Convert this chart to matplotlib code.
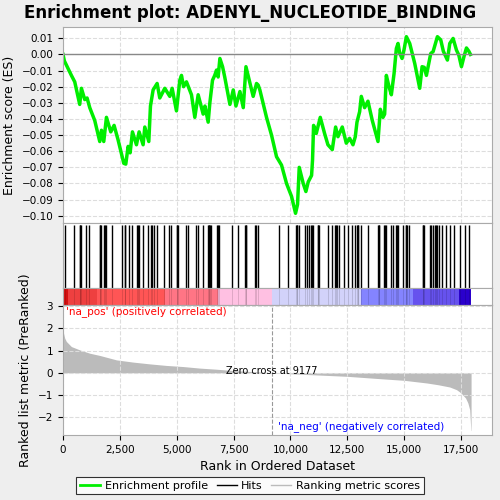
import matplotlib.pyplot as plt
import numpy as np
from matplotlib.lines import Line2D

# running enrichment score (rank, ES)
es_rank = [0, 60, 369, 516, 735, 809, 956, 1058, 1176, 1396, 1616, 1690, 1792, 1910,
           2100, 2246, 2422, 2672, 2760, 2863, 2950, 3053, 3229, 3346, 3522, 3596, 3772,
           3845, 3962, 4138, 4255, 4475, 4695, 4798, 4988, 5135, 5209, 5300, 5428, 5648,
           5795, 5942, 6162, 6240, 6382, 6456, 6573, 6670, 6750, 6820, 6897, 7015, 7110,
           7338, 7485, 7602, 7778, 7925, 8043, 8190, 8361, 8508, 8580, 8654, 8947, 9167,
           9387, 9607, 9827, 10047, 10223, 10311, 10385, 10561, 10678, 10781, 10928,
           10970, 11016, 11134, 11310, 11500, 11647, 11838, 11985, 12088, 12278, 12454,
           12600, 12748, 12850, 12924, 13041, 13114, 13260, 13407, 13598, 13848, 13950,
           14068, 14140, 14215, 14332, 14435, 14553, 14655, 14729, 14800, 14905, 14990,
           15096, 15243, 15463, 15683, 15786, 15880, 15976, 16060, 16167, 16270, 16372,
           16460, 16607, 16720, 16900, 17003, 17150, 17297, 17400, 17517, 17634, 17737,
           17840, 17913]
es_val = [0.000, -0.004, -0.013, -0.017, -0.031, -0.021, -0.028, -0.027, -0.033, -0.041,
          -0.054, -0.047, -0.054, -0.039, -0.048, -0.044, -0.053, -0.0675, -0.068, -0.057,
          -0.061, -0.048, -0.056, -0.048, -0.056, -0.045, -0.054, -0.032, -0.022, -0.018,
          -0.027, -0.021, -0.026, -0.021, -0.035, -0.016, -0.013, -0.020, -0.017, -0.025,
          -0.039, -0.025, -0.037, -0.032, -0.042, -0.030, -0.016, -0.013, -0.0097, -0.014,
          -0.0025, -0.0076, -0.014, -0.031, -0.022, -0.032, -0.023, -0.033, -0.0076,
          -0.016, -0.026, -0.018, -0.019, -0.022, -0.039, -0.050, -0.0634, -0.0686, -0.080,
          -0.088, -0.0985, -0.093, -0.070, -0.080, -0.085, -0.079, -0.075, -0.0655, -0.044,
          -0.049, -0.039, -0.049, -0.056, -0.059, -0.045, -0.051, -0.045, -0.055, -0.052,
          -0.056, -0.051, -0.042, -0.0355, -0.026, -0.033, -0.029, -0.041, -0.054, -0.034,
          -0.039, -0.037, -0.013, -0.020, -0.025, -0.012, 0.0037, 0.0068, 0.001, -0.0025,
          0.0027, 0.011, 0.0068, -0.0056, -0.021, -0.0076, -0.008, -0.013, -0.007, 0.0006,
          0.0017, 0.0068, 0.011, 0.009, 0.002, -0.0035, 0.0068, 0.0099, 0.0027, -0.0004,
          -0.0076, -0.001, 0.004, 0.002, 0.000]

# positions of gene set members in the ranked list
hits = [75, 484, 740, 766, 790, 1012, 1144, 1620, 1645, 1670, 1790, 1835, 1880, 2173,
        2596, 2720, 2745, 2904, 3053, 3260, 3300, 3340, 3537, 3727, 3880, 3933, 3980,
        4153, 4430, 4681, 4751, 5000, 5033, 5070, 5411, 5486, 5869, 5939, 6159, 6360,
        6400, 6423, 6450, 6490, 6780, 6819, 6860, 7422, 7673, 7990, 8025, 8060, 8421,
        8491, 8566, 9503, 9872, 10230, 10268, 10300, 10356, 10647, 10735, 10809, 10900,
        10941, 10980, 11190, 11219, 11250, 11658, 11834, 11970, 11997, 12030, 12142,
        12336, 12539, 12688, 12820, 12920, 12952, 12990, 13097, 13405, 13850, 13876,
        13910, 14120, 14153, 14190, 14430, 14505, 14630, 14668, 14710, 14932, 15060,
        15090, 15120, 15209, 15810, 15838, 15870, 16119, 16190, 16278, 16370, 16397,
        16430, 16516, 16674, 16850, 17026, 17189, 17440, 17660, 17862]

# ranked list metric
metric_rank = [0, 20, 75, 147, 367, 735, 1176, 1616, 2350, 3083, 3816, 4549, 5282, 6015,
               6749, 7482, 8215, 9177, 10000, 12500, 14000, 15000, 16000, 16500, 17000,
               17300, 17500, 17700, 17800, 17880, 17930, 17940]
metric_val = [1.95, 1.80, 1.56, 1.41, 1.18, 1.03, 0.88, 0.78, 0.58, 0.48, 0.40, 0.33, 0.28,
              0.21, 0.16, 0.10, 0.06, 0.0, -0.045, -0.16, -0.27, -0.34, -0.46, -0.54, -0.64,
              -0.76, -0.91, -1.14, -1.36, -1.66, -2.6, -2.6]

n_genes = 17940
zero_cross = 9177

# colour band under the hits
band_edges = [0, 200, 1500, 4500, 6800, 9177, 13100, 15400, 17400, n_genes]
band_colors = ['#d41010', '#ee4040', '#ff5555', '#ff7585', '#ffc0e2', '#d2d2fa',
               '#8484ff', '#6652ee', '#2a00cc']

xmax = 18860
fig = plt.figure(figsize=(5, 5), dpi=100, facecolor='#eeeeee')

ax_es = fig.add_axes([0.126, 0.554, 0.858, 0.392])
ax_hit = fig.add_axes([0.126, 0.424, 0.858, 0.130])
ax_band = fig.add_axes([0.126, 0.390, 0.858, 0.034])
ax_m = fig.add_axes([0.126, 0.130, 0.858, 0.260])

edge = '#aaaaaa'
for a in (ax_es, ax_hit, ax_band, ax_m):
    a.set_xlim(0, xmax)
    for s in a.spines.values():
        s.set_color(edge)

ax_es.plot(es_rank, es_val, color='#00ee00', lw=2.5)
ax_es.axhline(0, color='#888888', lw=1)
ax_es.set_ylim(-0.1045, 0.017)
yt = np.arange(-0.10, 0.011, 0.01)
ax_es.set_yticks(yt)
ax_es.set_yticklabels([f'{v:.2f}'.replace('-', '\u2212') if abs(v) > 1e-9 else '0.00' for v in yt])
ax_es.set_xticks(np.arange(0, 17501, 2500))
ax_es.tick_params(axis='x', labelbottom=False, length=0)
ax_es.tick_params(axis='y', labelsize=7.5)
ax_es.grid(True, ls='--', color='#dddddd', lw=0.8)
ax_es.set_ylabel('Enrichment score (ES)', fontsize=9)
fig.text(0.5, 0.975, 'Enrichment plot: ADENYL_NUCLEOTIDE_BINDING', ha='center',
         va='center', fontsize=12, fontweight='bold')

ax_hit.vlines(hits, 0, 1, color='black', lw=1)
ax_hit.set_ylim(0, 1.03)
ax_hit.set_xticks([])
ax_hit.set_yticks([])

for i in range(len(band_colors)):
    ax_band.axvspan(band_edges[i], band_edges[i + 1], color=band_colors[i], lw=0)
ax_band.vlines(hits, 0, 1, color='black', lw=0.6, alpha=0.15)
ax_band.set_ylim(0, 1)
ax_band.set_xticks([])
ax_band.set_yticks([])

ax_m.fill_between(metric_rank, metric_val, 0, color='#bbbbbb', lw=0)
ax_m.axvline(zero_cross, color='#999999', ls='--', lw=0.8)
ax_m.set_ylim(-2.8, 3.05)
ax_m.set_yticks([-2, -1, 0, 1, 2, 3])
ax_m.set_yticklabels(['\u22122', '\u22121', '0', '1', '2', '3'])
ax_m.set_xticks(np.arange(0, 17501, 2500))
ax_m.set_xticklabels(['0', '2,500', '5,000', '7,500', '10,000', '12,500', '15,000', '17,500'])
ax_m.tick_params(labelsize=7.5)
ax_m.grid(True, ls='--', color='#dddddd', lw=0.8)
ax_m.set_xlabel('Rank in Ordered Dataset', fontsize=9)
ax_m.set_ylabel('Ranked list metric (PreRanked)', fontsize=9)
ax_m.text(zero_cross, 0.1, 'Zero cross at 9177', ha='center', va='center', fontsize=7)
ax_m.text(150, 2.75, "'na_pos' (positively correlated)", color='red', fontsize=7.5,
          va='center')
ax_m.text(9430, -2.42, "'na_neg' (negatively correlated)", color='blue', fontsize=7.5,
          va='center')

handles = [Line2D([], [], color='#00ee00', lw=2),
           Line2D([], [], color='black', lw=1),
           Line2D([], [], color='#bbbbbb', lw=1)]
leg = fig.legend(handles, ['Enrichment profile', 'Hits', 'Ranking metric scores'],
                 loc='lower center', bbox_to_anchor=(0.5, 0.0), ncol=3, fontsize=8,
                 frameon=True, fancybox=False, handlelength=1.8, columnspacing=0.8,
                 handletextpad=0.4, borderpad=0.35)
leg.get_frame().set_edgecolor('black')
leg.get_frame().set_linewidth(0.8)

fig.savefig('out.png', dpi=100, facecolor=fig.get_facecolor())
